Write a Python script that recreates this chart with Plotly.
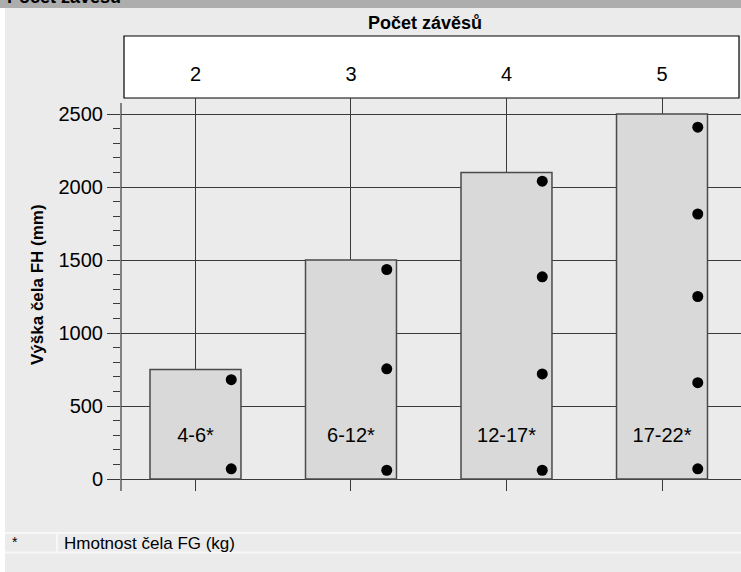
import plotly.graph_objects as go

# ---------------------------------------------------------------------------
# Data
# ---------------------------------------------------------------------------
hinge_counts = [2, 3, 4, 5]                       # Počet závěsů
max_heights = [750, 1500, 2100, 2500]             # max Výška čela FH (mm)
weight_ranges = ["4-6", "6-12", "12-17", "17-22"]  # Hmotnost čela FG (kg)
hinge_positions = [
    [680, 70],
    [1435, 755, 60],
    [2040, 1385, 720, 60],
    [2410, 1815, 1250, 660, 70],
]

FONT = "Liberation Sans, Arial, Helvetica, sans-serif"
BG = "#ebebeb"
LINE = "#3a3a3a"

# plot area in pixels: x 121..741, y 98..491
L, T, W, H = 121, 98, 620, 393
def px(x):
    return (x - L) / W
def py(y):
    return 1 - (y - T) / H

fig = go.Figure()

# bars
fig.add_trace(go.Bar(
    x=hinge_counts,
    y=max_heights,
    width=0.585,
    marker=dict(color="#d9d9d9", line=dict(color="#4a4a4a", width=1.5)),
    hoverinfo="skip",
    showlegend=False,
))

# hinge dots near the right edge of each bar
dot_x, dot_y = [], []
for c, ys in zip(hinge_counts, hinge_positions):
    for v in ys:
        dot_x.append(c + 0.23)
        dot_y.append(v)
fig.add_trace(go.Scatter(
    x=dot_x, y=dot_y, mode="markers",
    marker=dict(color="black", size=11),
    hoverinfo="skip", showlegend=False,
))

# weight labels inside bars
fig.add_trace(go.Scatter(
    x=hinge_counts,
    y=[290] * len(hinge_counts),
    mode="text",
    text=[f"{w}*" for w in weight_ranges],
    textfont=dict(family=FONT, size=20, color="black"),
    hoverinfo="skip", showlegend=False,
))

shapes = [
    # grey page body and top header band
    dict(type="rect", xref="paper", yref="paper", layer="below",
         x0=px(5), x1=px(745), y0=py(576), y1=py(8),
         fillcolor=BG, line=dict(width=0)),
    dict(type="rect", xref="paper", yref="paper", layer="below",
         x0=px(-4), x1=px(745), y0=py(8), y1=py(-4),
         fillcolor="#adadad", line=dict(width=0)),
    # white header box for the x categories
    dict(type="rect", xref="paper", yref="paper", layer="below",
         x0=px(124), x1=px(739), y0=py(98), y1=py(36),
         fillcolor="white", line=dict(color="black", width=1.2)),
    # y axis line
    dict(type="line", xref="paper", yref="paper",
         x0=0, x1=0, y0=0, y1=py(103),
         line=dict(color=LINE, width=1.2)),
    # footnote rows
    dict(type="line", xref="paper", yref="paper",
         x0=px(5), x1=px(741), y0=py(533), y1=py(533),
         line=dict(color="#f7f7f7", width=2)),
    dict(type="line", xref="paper", yref="paper",
         x0=px(5), x1=px(741), y0=py(552.5), y1=py(552.5),
         line=dict(color="#f7f7f7", width=2)),
    dict(type="line", xref="paper", yref="paper",
         x0=px(57), x1=px(57), y0=py(533), y1=py(552.5),
         line=dict(color="#f7f7f7", width=2)),
]

annotations = [
    dict(text="<b>Počet závěsů</b>", xref="paper", yref="paper",
         x=px(5), y=py(9), xanchor="left", yanchor="bottom",
         showarrow=False, font=dict(family=FONT, size=18, color="black")),
    dict(text="<b>Počet závěsů</b>", xref="paper", yref="paper",
         x=px(425), y=py(23), xanchor="center", yanchor="middle",
         showarrow=False, font=dict(family=FONT, size=18, color="black")),
    dict(text="<b>Výška čela FH (mm)</b>", xref="paper", yref="paper",
         x=px(37), y=py(284), xanchor="center", yanchor="middle",
         textangle=-90, showarrow=False,
         font=dict(family=FONT, size=17, color="black")),
    dict(text="*", xref="paper", yref="paper",
         x=px(10), y=py(542), xanchor="left", yanchor="middle",
         showarrow=False, font=dict(family=FONT, size=14, color="black")),
    dict(text="Hmotnost čela FG (kg)", xref="paper", yref="paper",
         x=px(62), y=py(543), xanchor="left", yanchor="middle",
         showarrow=False, font=dict(family=FONT, size=17, color="black")),
]

fig.update_layout(
    width=741, height=572,
    margin=dict(l=L, r=0, t=T, b=572 - T - H),
    paper_bgcolor="white",
    plot_bgcolor="rgba(0,0,0,0)",
    font=dict(family=FONT, color="black"),
    shapes=shapes,
    annotations=annotations,
    showlegend=False,
    xaxis=dict(
        side="top",
        range=[1.521, 5.508],
        tickvals=hinge_counts,
        ticktext=[str(c) for c in hinge_counts],
        ticks="",
        ticklabelstandoff=12,
        tickfont=dict(family=FONT, size=20),
        showgrid=True, gridcolor=LINE, gridwidth=1,
        zeroline=False, showline=False,
        fixedrange=True,
    ),
    yaxis=dict(
        range=[-82.2, 2609.6],
        tickvals=[0, 500, 1000, 1500, 2000, 2500],
        ticks="outside", ticklen=13, tickcolor=LINE, tickwidth=1.2,
        tickfont=dict(family=FONT, size=20),
        showgrid=True, gridcolor=LINE, gridwidth=1,
        zeroline=True, zerolinecolor=LINE, zerolinewidth=1.2,
        showline=False,
        minor=dict(tickvals=[v for v in range(100, 2500, 100) if v % 500],
                   ticks="outside", ticklen=7, tickcolor=LINE, showgrid=False),
        fixedrange=True,
    ),
)

fig.write_html("out.html", config={"displayModeBar": False},
               post_script="document.body.style.margin='0';")
